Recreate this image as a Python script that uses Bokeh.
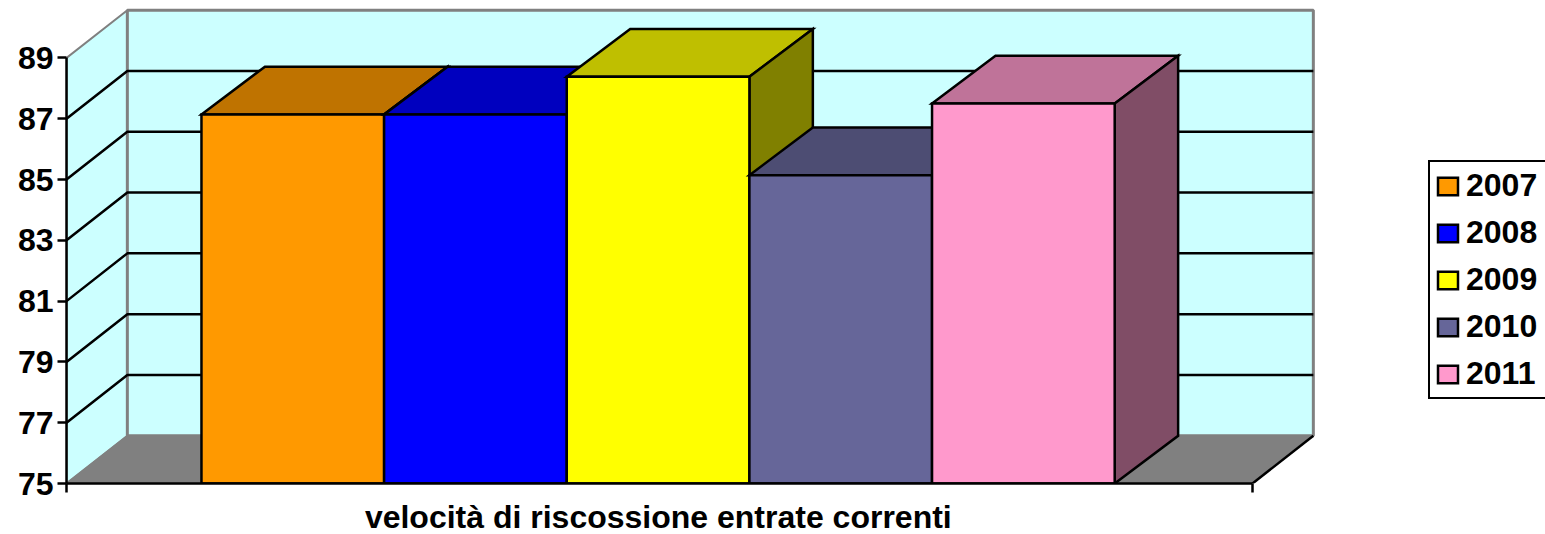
from bokeh.plotting import figure
from bokeh.embed import file_html
from bokeh.resources import INLINE
from bokeh.models import Legend, LegendItem, FixedTicker, Label

# --- data ---
years = ["2007", "2008", "2009", "2010", "2011"]
values = [87.14, 87.14, 88.38, 85.14, 87.5]
colors = ["#FF9900", "#0000FF", "#FFFF00", "#666699", "#FF99CC"]
tops = ["#BF7300", "#0000BF", "#BFBF00", "#4D4D73", "#BF7399"]
sides = ["#804D00", "#000080", "#808000", "#33334D", "#804D66"]
y_ticks = [75, 77, 79, 81, 83, 85, 87, 89]
grid_values = [77, 79, 81, 83, 85, 87]
x_title = "velocità di riscossione entrate correnti"

# --- projection of the 3-D box onto the plane ---
Y0, Y1 = y_ticks[0], y_ticks[-1]
BAR_W = 0.154
BAR_START = 0.1138
WALL_DX, WALL_DY = 0.0513, 1.57   # depth of the chart box
BAR_DX, BAR_DY = 0.0535, 1.57     # depth of the columns
X_END = 1479 / 1186
Y_END = Y0 + 483 / 30.4

WALL = "#CCFFFF"
FLOOR = "#808080"
GREY = "#808080"
FONT = "Liberation Sans"
LW = 2.5

p = figure(width=1545, height=534, output_backend="svg", toolbar_location=None,
           x_range=(0, X_END), y_range=(Y0, Y_END),
           min_border_left=66, min_border_right=0, min_border_top=0, min_border_bottom=51,
           x_axis_type="linear", y_axis_type="linear")
p.grid.visible = False
p.outline_line_color = None
p.background_fill_color = "white"

# walls and floor
p.patch([0, WALL_DX, WALL_DX, 0], [Y0, Y0 + WALL_DY, Y1 + WALL_DY, Y1],
        fill_color=WALL, line_color=GREY, line_width=2)
p.patch([WALL_DX, 1 + WALL_DX, 1 + WALL_DX, WALL_DX],
        [Y0 + WALL_DY, Y0 + WALL_DY, Y1 + WALL_DY, Y1 + WALL_DY],
        fill_color=WALL, line_color=GREY, line_width=3)
p.patch([0, WALL_DX, 1 + WALL_DX, 1], [Y0, Y0 + WALL_DY, Y0 + WALL_DY, Y0],
        fill_color=FLOOR, line_color=GREY, line_width=1.5)
p.line([1, 1 + WALL_DX], [Y0, Y0 + WALL_DY], line_color="black", line_width=LW)

# gridlines on side wall and back wall
for g in grid_values:
    p.line([0, WALL_DX, 1 + WALL_DX], [g, g + WALL_DY, g + WALL_DY],
           line_color="black", line_width=LW)

# columns, left to right
items = []
for i, (yr, v) in enumerate(zip(years, values)):
    x0 = BAR_START + i * BAR_W
    x1 = x0 + BAR_W
    p.patch([x0, x1, x1 + BAR_DX, x0 + BAR_DX], [v, v, v + BAR_DY, v + BAR_DY],
            fill_color=tops[i], line_color="black", line_width=LW, line_join="miter")
    p.patch([x1, x1 + BAR_DX, x1 + BAR_DX, x1], [Y0, Y0 + BAR_DY, v + BAR_DY, v],
            fill_color=sides[i], line_color="black", line_width=LW, line_join="miter")
    r = p.vbar(x=[(x0 + x1) / 2], top=[v], bottom=Y0, width=BAR_W,
               fill_color=colors[i], line_color="black", line_width=LW, line_join="miter")
    items.append(LegendItem(label=yr, renderers=[r]))

# axes
ya = p.yaxis[0]
ya.bounds = (Y0, Y1)
ya.ticker = FixedTicker(ticks=y_ticks)
ya.axis_line_color = "black"
ya.axis_line_width = LW
ya.major_tick_line_color = "black"
ya.major_tick_line_width = LW
ya.major_tick_out = 9
ya.major_tick_in = 0
ya.minor_tick_line_color = None
ya.major_label_standoff = 4
ya.major_label_text_font = FONT
ya.major_label_text_font_style = "bold"
ya.major_label_text_font_size = "32px"
ya.major_label_text_color = "black"

xa = p.xaxis[0]
xa.bounds = (0, 1)
xa.ticker = FixedTicker(ticks=[0, 1])
xa.major_label_overrides = {0: "", 1: ""}
xa.major_label_text_font_size = "1px"
xa.major_label_standoff = 0
xa.axis_line_color = "black"
xa.axis_line_width = LW
xa.major_tick_line_color = "black"
xa.major_tick_line_width = LW
xa.major_tick_out = 9
xa.major_tick_in = 0
xa.minor_tick_line_color = None

p.add_layout(Label(x=0.499, y=Y0 - 33 / 30.4, text=x_title, text_align="center",
                   text_baseline="alphabetic",
                   text_font=FONT, text_font_style="bold", text_font_size="32px",
                   text_color="black"), "below")

legend = Legend(items=items, location=(1362, 84), orientation="vertical",
                glyph_width=25, glyph_height=22, label_standoff=6,
                label_width=120, label_height=22, padding=5, margin=0, spacing=10,
                label_text_font=FONT, label_text_font_style="bold",
                label_text_font_size="32px", label_text_color="black",
                border_line_color="black", border_line_width=2.5, border_line_alpha=1,
                background_fill_color="white", background_fill_alpha=1)
p.add_layout(legend, "center")

open("out.html", "w").write(file_html(p, INLINE))
